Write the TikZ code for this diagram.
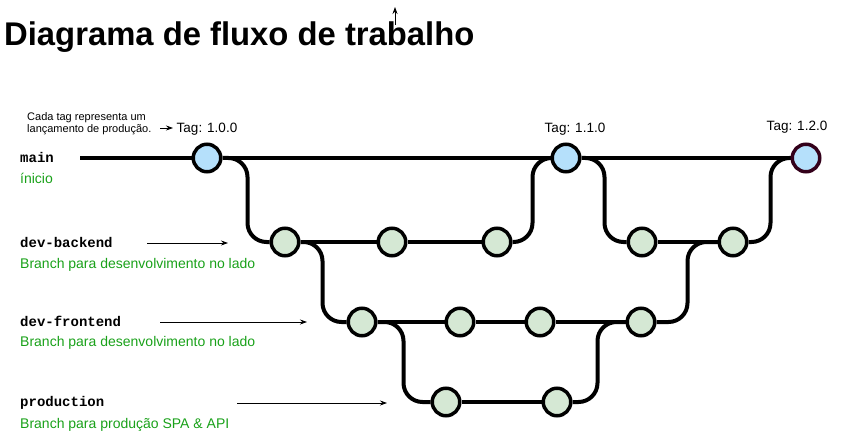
\documentclass[tikz,border=0pt]{standalone}
\usepackage{fontspec}
\setmainfont{Liberation Sans}
\setmonofont{Liberation Mono}
\usetikzlibrary{arrows.meta,backgrounds}

\definecolor{tagblue}{RGB}{181,224,251}
\definecolor{commitgreen}{HTML}{D5E8D4}
\definecolor{lastrim}{HTML}{33001A}
\definecolor{notegreen}{HTML}{19A119}

\begin{document}
\begin{tikzpicture}
	[x=1pt,y=-1pt,
	commit/.style={circle, draw=black, line width=3.5pt,
		minimum size=27.5pt, inner sep=0pt, fill=commitgreen},
	release/.style={commit, fill=tagblue},
	branch/.style={line width=4pt, rounded corners=19pt},
	hint/.style={-{Stealth[length=7pt,width=5pt]}, line width=0.8pt},
	branchname/.style={anchor=base west, inner sep=0pt,
		font=\ttfamily\bfseries\fontsize{14}{16}\selectfont},
	branchnote/.style={anchor=base west, inner sep=0pt, text=notegreen,
		font=\fontsize{14}{16}\selectfont},
	tagtext/.style={anchor=base, inner sep=0pt,
		font=\fontsize{13.5}{16}\selectfont}]

	\useasboundingbox (0,0) rectangle (854,433);

	%% titulo
	\node [anchor=base west, inner sep=0pt,
		font=\bfseries\fontsize{32.8}{38}\selectfont] (title) at (4,45.5)
		{Diagrama de fluxo de trabalho};
	\coordinate (up0) at (395,25);
	\coordinate (up1) at (395,7);

	%% commits
	\node [release] (m1) at (207,158) {};
	\node [release] (m2) at (566,158) {};
	\node [release, draw=lastrim] (m3) at (806,158) {};

	\node [commit] (b1) at (285,242) {};
	\node [commit] (b2) at (392,242) {};
	\node [commit] (b3) at (497,242) {};
	\node [commit] (b4) at (642,242) {};
	\node [commit] (b5) at (733,242) {};

	\node [commit] (f1) at (362,322) {};
	\node [commit] (f2) at (460,322) {};
	\node [commit] (f3) at (540,322) {};
	\node [commit] (f4) at (641,322) {};

	\node [commit] (p1) at (446,402) {};
	\node [commit] (p2) at (557,402) {};

	\coordinate (mstart) at (80,158);

	%% tags
	\node [tagtext] (tag0) at (207,133) {Tag: 1.0.0};
	\node [tagtext] (tag1) at (575,133) {Tag: 1.1.0};
	\node [tagtext] (tag2) at (797,131) {Tag: 1.2.0};
	\node [anchor=base west, inner sep=0pt, align=left,
		font=\fontsize{11}{12}\selectfont] (tagnote) at (27,133)
		{Cada tag representa um\\lançamento de produção.};
	\coordinate (n0) at (160,128);
	\coordinate (n1) at (173,128);

	%% legenda
	\node [branchname] (lmain) at (20,163) {main};
	\node [branchnote] (lmaintxt) at (20,183) {ínicio};
	\node [branchname] (lback) at (20,247) {dev-backend};
	\node [branchnote] (lbacktxt) at (20,268) {Branch para desenvolvimento no lado};
	\node [branchname] (lfront) at (20,326) {dev-frontend};
	\node [branchnote] (lfronttxt) at (20,346) {Branch para desenvolvimento no lado};
	\node [branchname] (lprod) at (20,406) {production};
	\node [branchnote] (lprodtxt) at (20,428) {Branch para produção SPA \& API};

	\coordinate (a1) at (147,243);
	\coordinate (a1_) at (228,243);
	\coordinate (a2) at (160,322);
	\coordinate (a2_) at (307,322);
	\coordinate (a3) at (237,403);
	\coordinate (a3_) at (387,403);

	\begin{scope}[on background layer]
		\foreach \from/\to in {mstart/m1,m1/m2,m2/m3,
		b1/b2,b2/b3,b4/b5,
		f1/f2,f2/f3,f3/f4,
		p1/p2}
		\draw[branch] (\from) -- (\to);

		\foreach \from/\to/\dx in {m1/b1/25,b3/m2/20,m2/b4/23,b5/m3/22,
		b1/f1/22,f1/p1/26,p2/f4/25,f4/b5/31}
		\draw[branch] (\from.east) -- ++(\dx,0) |- (\to.west);
	\end{scope}

	\foreach \from/\to in {a1/a1_,a2/a2_,a3/a3_,n0/n1,up0/up1}
	\draw[hint] (\from) -- (\to);
\end{tikzpicture}
\end{document}
